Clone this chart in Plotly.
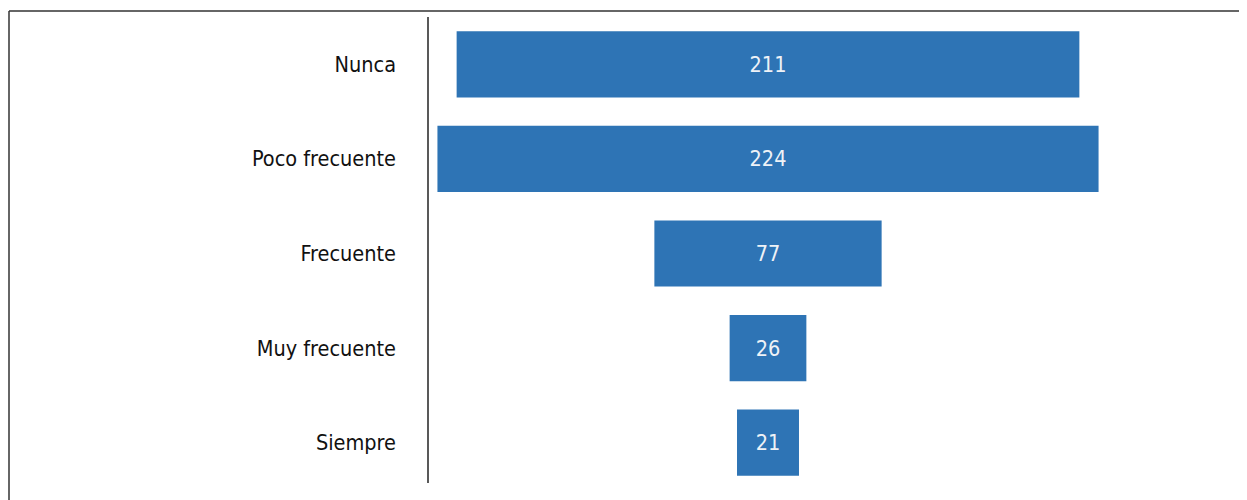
import plotly.graph_objects as go

categories = ["Nunca", "Poco frecuente", "Frecuente", "Muy frecuente", "Siempre"]
values = [211, 224, 77, 26, 21]

W, H = 1247, 500
# page body adds an 8px offset; margins are chosen so the plot lands where the reference has it
ml, mr, mt, mb = 420, 147, 9, 18
pw = W - ml - mr
ph = H - mt - mb

FONT = "DejaVu Sans Condensed, Liberation Sans Narrow, sans-serif"

fig = go.Figure(go.Funnel(
    y=categories,
    x=values,
    marker=dict(color="#2E74B5"),
    connector=dict(visible=False),
    textinfo="value",
    textposition="inside",
    insidetextfont=dict(color="#EEF2F7", size=21.5, family=FONT),
    width=0.7,
))

fig.update_layout(
    width=W, height=H,
    margin=dict(l=ml, r=mr, t=mt, b=mb),
    paper_bgcolor="white",
    plot_bgcolor="white",
    showlegend=False,
    font=dict(family=FONT, size=21, color="#111111"),
    xaxis=dict(visible=False, range=[-115.2, 115.2]),
    yaxis=dict(showline=False, ticks="", ticklabelstandoff=31,
               tickfont=dict(size=21.5, color="#111111")),
    shapes=[
        # vertical axis line
        dict(type="line", xref="paper", yref="paper",
             x0=0, x1=0, y0=1, y1=7 / ph,
             line=dict(color="#222222", width=1.5)),
        # outer frame (top and left)
        dict(type="line", xref="paper", yref="paper",
             x0=(1 - ml) / pw, x1=(W + 20 - ml) / pw,
             y0=1 + (mt - 3) / ph, y1=1 + (mt - 3) / ph,
             line=dict(color="#333333", width=1.5)),
        dict(type="line", xref="paper", yref="paper",
             x0=(1 - ml) / pw, x1=(1 - ml) / pw,
             y0=1 + (mt - 3) / ph, y1=-(mb + 20) / ph,
             line=dict(color="#333333", width=1.5)),
    ],
)

fig.write_html("out.html")
